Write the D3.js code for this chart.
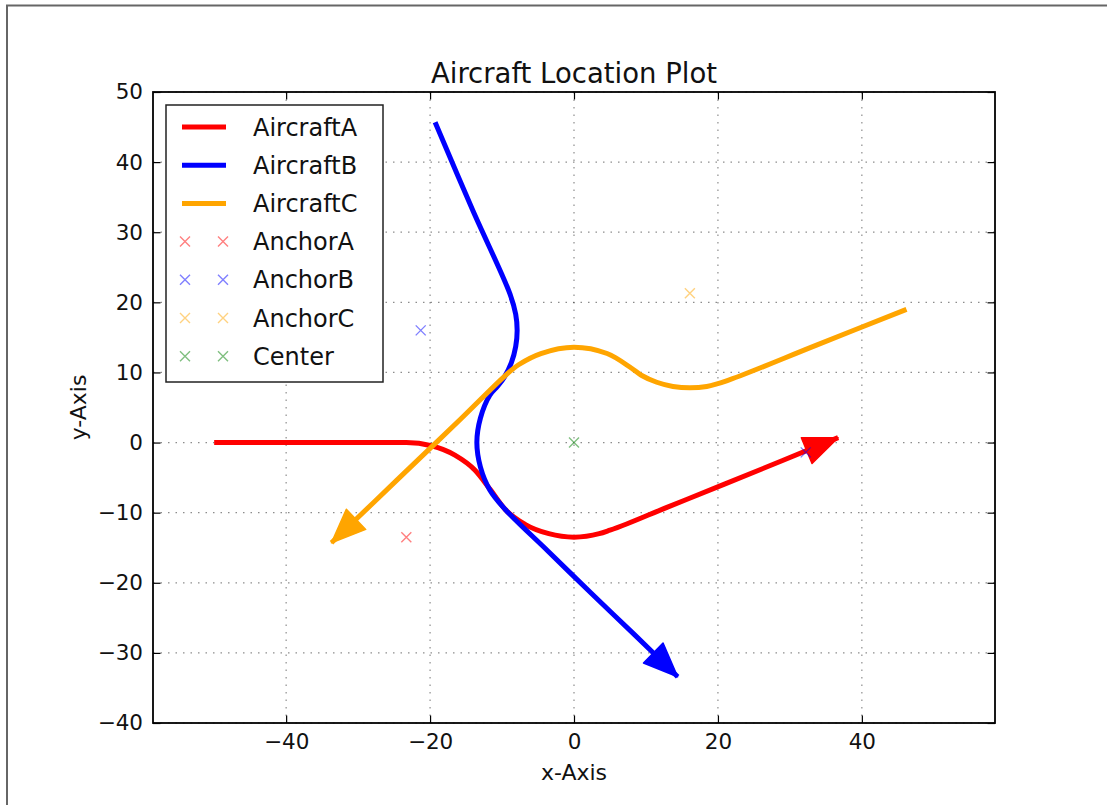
<!DOCTYPE html>
<html>
<head>
<meta charset="utf-8">
<script src="https://cdn.jsdelivr.net/npm/d3@7"></script>
<style>
  html, body { margin: 0; padding: 0; background: #fff; }
  svg { display: block; font-family: "DejaVu Sans", sans-serif; }
</style>
</head>
<body>
<svg id="chart" width="1107" height="805"></svg>
<script>
// Flight paths (x, y in grid units), last point is where the arrowhead sits
const aircraftA_x = [-50, -40, -30, -23.3, -19.8, -16.55, -13.75, -11.6, -9.55, -6.75, -3.5, 0, 3.5, 5.0, 13.0, 21.0, 28.9, 36.7];
const aircraftA_y = [0, 0, 0, 0, -0.46, -1.8, -3.95, -6.75, -9.55, -11.7, -13.0, -13.5, -13.0, -12.5, -9.2, -5.9, -2.6, 0.7];

const aircraftB_x = [-19.3, -14.1, -8.9, -8.1, -7.9, -8.1, -8.7, -9.7, -10.65, -11.7, -13.0, -13.5, -13.0, -11.7, -9.55, -3.6, 2.4, 8.4, 14.4];
const aircraftB_y = [45.7, 33.2, 21.2, 18.3, 16.0, 13.7, 11.4, 9.3, 8.0, 6.75, 3.5, 0, -3.5, -6.75, -9.55, -15.5, -21.5, -27.4, -33.4];

const aircraftC_x = [46.2, 33.7, 21.2, 18.45, 16.1, 13.75, 11.5, 9.35, 8.0, 4.6, 0, -4.6, -7.7, -9.55, -15.6, -21.6, -27.7, -33.7];
const aircraftC_y = [19.0, 13.9, 8.8, 8.0, 7.8, 8.0, 8.6, 9.6, 10.6, 12.7, 13.6, 12.7, 11.1, 9.55, 3.5, -2.4, -8.4, -14.3];

// Turn anchors and the centre point
const anchorA_x = [-23.3];
const anchorA_y = [-13.5];
const anchorB_x = [-21.3, 32.2];
const anchorB_y = [16.0, -1.4];
const anchorC_x = [16.1];
const anchorC_y = [21.3];
const center_x = [0];
const center_y = [0];

const xTicks = [-40, -20, 0, 20, 40];
const yTicks = [-40, -30, -20, -10, 0, 10, 20, 30, 40, 50];

const seriesNames = ["AircraftA", "AircraftB", "AircraftC"];
const anchorNames = ["AnchorA", "AnchorB", "AnchorC", "Center"];

const svg = d3.select("#chart");
const W = 1107, H = 805;
const plot = { left: 153, right: 995, top: 92, bottom: 723 };

const x = d3.scaleLinear().domain([-58.5, 58.5]).range([plot.left, plot.right]);
const y = d3.scaleLinear().domain([-40, 50]).range([plot.bottom, plot.top]);

// outer figure edge
svg.append("path")
  .attr("d", `M7,${H} L7,5.5 L${W},5.5`)
  .attr("fill", "none").attr("stroke", "#666").attr("stroke-width", 2);

// dotted grid
const grid = svg.append("g");
grid.selectAll("line.gx").data(xTicks).join("line")
  .attr("x1", d => x(d)).attr("x2", d => x(d))
  .attr("y1", plot.top).attr("y2", plot.bottom);
grid.selectAll("line.gy").data(yTicks).join("line")
  .attr("y1", d => y(d)).attr("y2", d => y(d))
  .attr("x1", plot.left).attr("x2", plot.right);
grid.selectAll("line")
  .attr("stroke", "#000").attr("stroke-opacity", 0.45)
  .attr("stroke-width", 1.2).attr("stroke-dasharray", "1.5,6");

svg.append("clipPath").attr("id", "plotclip")
  .append("rect").attr("x", plot.left).attr("y", plot.top)
  .attr("width", plot.right - plot.left).attr("height", plot.bottom - plot.top);

const layer = svg.append("g").attr("clip-path", "url(#plotclip)");

const smooth = d3.line().x(d => x(d[0])).y(d => y(d[1])).curve(d3.curveCatmullRom.alpha(0.5));
const monoX = d3.line().x(d => x(d[0])).y(d => y(d[1])).curve(d3.curveMonotoneX);

const paths = [
  { xs: aircraftA_x, ys: aircraftA_y, color: "#ff0000", gen: monoX },
  { xs: aircraftB_x, ys: aircraftB_y, color: "#0000ff", gen: smooth },
  { xs: aircraftC_x, ys: aircraftC_y, color: "#ffa500", gen: smooth }
];

paths.forEach(p => {
  const pts = p.xs.map((v, i) => [v, p.ys[i]]);
  layer.append("path").attr("d", p.gen(pts))
    .attr("fill", "none").attr("stroke", p.color)
    .attr("stroke-width", 5).attr("stroke-linejoin", "round");
  // arrowhead at the final position, pointing along the last leg
  const n = pts.length;
  const tx = x(pts[n - 1][0]), ty = y(pts[n - 1][1]);
  const px = x(pts[n - 2][0]), py = y(pts[n - 2][1]);
  const len = Math.hypot(tx - px, ty - py);
  const ux = (tx - px) / len, uy = (ty - py) / len;
  const L = 34, hw = 14;
  const bx = tx - ux * L, by = ty - uy * L;
  layer.append("path")
    .attr("d", `M${tx},${ty} L${bx - uy * hw},${by + ux * hw} L${bx + uy * hw},${by - ux * hw} Z`)
    .attr("fill", p.color).attr("stroke", p.color).attr("stroke-width", 1.5)
    .attr("stroke-linejoin", "round");
});

// x markers for anchors
const anchors = [
  { xs: anchorA_x, ys: anchorA_y, color: "#ff0000" },
  { xs: anchorB_x, ys: anchorB_y, color: "#0000ff" },
  { xs: anchorC_x, ys: anchorC_y, color: "#ffa500" },
  { xs: center_x, ys: center_y, color: "#008000" }
];
const xMark = (cx, cy, r) => `M${cx - r},${cy - r}L${cx + r},${cy + r}M${cx - r},${cy + r}L${cx + r},${cy - r}`;
anchors.forEach(a => {
  a.xs.forEach((v, i) => {
    layer.append("path").attr("d", xMark(x(v), y(a.ys[i]), 5))
      .attr("stroke", a.color).attr("stroke-opacity", 0.5).attr("stroke-width", 1.4)
      .attr("fill", "none");
  });
});

// axes with inward ticks on all four sides
const tickLen = 7.5;
const fmt = d3.format("d");
const axB = svg.append("g").attr("transform", `translate(0,${plot.bottom})`)
  .call(d3.axisBottom(x).tickValues(xTicks).tickSize(-tickLen).tickPadding(11).tickFormat(fmt));
const axL = svg.append("g").attr("transform", `translate(${plot.left},0)`)
  .call(d3.axisLeft(y).tickValues(yTicks).tickSize(-tickLen).tickPadding(10).tickFormat(fmt));
const axT = svg.append("g").attr("transform", `translate(0,${plot.top})`)
  .call(d3.axisTop(x).tickValues(xTicks).tickSize(-tickLen).tickFormat(""));
const axR = svg.append("g").attr("transform", `translate(${plot.right},0)`)
  .call(d3.axisRight(y).tickValues(yTicks).tickSize(-tickLen).tickFormat(""));
[axB, axL, axT, axR].forEach(g => {
  g.select(".domain").remove();
  g.selectAll(".tick line").attr("stroke", "#000").attr("stroke-width", 1.2);
  g.selectAll(".tick text").attr("font-size", 21.5).attr("fill", "#111")
    .attr("font-family", "DejaVu Sans");
});

// plot frame
svg.append("rect").attr("x", plot.left).attr("y", plot.top)
  .attr("width", plot.right - plot.left).attr("height", plot.bottom - plot.top)
  .attr("fill", "none").attr("stroke", "#000").attr("stroke-width", 1.8);

// titles
svg.append("text").attr("x", (plot.left + plot.right) / 2).attr("y", 83)
  .attr("text-anchor", "middle").attr("font-size", 27.5).attr("fill", "#111")
  .text("Aircraft Location Plot");
svg.append("text").attr("x", (plot.left + plot.right) / 2).attr("y", 780)
  .attr("text-anchor", "middle").attr("font-size", 22).attr("fill", "#111")
  .text("x-Axis");
svg.append("text")
  .attr("transform", `translate(86,${(plot.top + plot.bottom) / 2}) rotate(-90)`)
  .attr("text-anchor", "middle").attr("font-size", 22).attr("fill", "#111")
  .text("y-Axis");

// legend
const lg = svg.append("g");
lg.append("rect").attr("x", 166).attr("y", 105).attr("width", 217).attr("height", 277)
  .attr("fill", "#fff").attr("stroke", "#222").attr("stroke-width", 1.5);
const rowY = i => 127 + i * 38.2;
paths.forEach((p, i) => {
  lg.append("line").attr("x1", 182).attr("x2", 226).attr("y1", rowY(i)).attr("y2", rowY(i))
    .attr("stroke", p.color).attr("stroke-width", 5);
  lg.append("text").attr("x", 253).attr("y", rowY(i)).attr("dy", "0.36em")
    .attr("font-size", 24).attr("fill", "#111").text(seriesNames[i]);
});
anchors.forEach((a, j) => {
  const i = j + 3;
  [185, 223].forEach(cx => {
    lg.append("path").attr("d", xMark(cx, rowY(i), 5))
      .attr("stroke", a.color).attr("stroke-opacity", 0.5).attr("stroke-width", 1.4).attr("fill", "none");
  });
  lg.append("text").attr("x", 253).attr("y", rowY(i)).attr("dy", "0.36em")
    .attr("font-size", 24).attr("fill", "#111").text(anchorNames[j]);
});
</script>
</body>
</html>
